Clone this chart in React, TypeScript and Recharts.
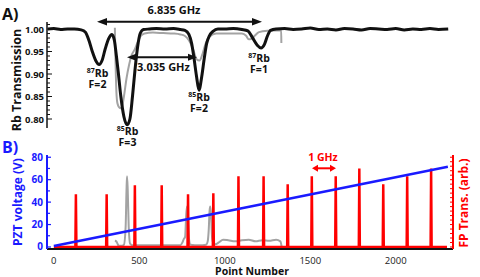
import React from "react";
import { LineChart, Line, XAxis, YAxis } from "recharts";

const FONT = "'Open Sans', sans-serif";
const BLUE = "#1a1aff";
const RED = "#ff0000";
const GRAY = "#a3a3a3";
const INK = "#111";

const X_DOMAIN: [number, number] = [-40, 2335];
const AXIS_L = 47;
const AXIS_R = 453;

// A) Rb transmission, main sweep (black)
const rbSweep: [number, number][] = [
  [-35, 1.0], [0, 1.001], [40, 0.999], [80, 1.0], [120, 1.0], [160, 0.998],
  [185, 0.993], [205, 0.975], [225, 0.95], [245, 0.93], [265, 0.921], [282, 0.93],
  [300, 0.955], [320, 0.978], [340, 0.988], [354, 0.975], [366, 0.94], [378, 0.9],
  [392, 0.85], [410, 0.805], [429, 0.787], [445, 0.8], [460, 0.85], [475, 0.91],
  [490, 0.96], [505, 0.99], [525, 0.999], [560, 1.0], [600, 1.001], [650, 1.0],
  [700, 1.001], [740, 0.999], [767, 0.997], [790, 0.988], [806, 0.968], [820, 0.935],
  [835, 0.894], [849, 0.864], [865, 0.894], [880, 0.935], [894, 0.968], [910, 0.985],
  [931, 0.995], [960, 1.0], [1000, 1.0], [1050, 1.001], [1100, 0.999], [1135, 0.996],
  [1160, 0.982], [1190, 0.964], [1212, 0.958], [1232, 0.966], [1250, 0.985],
  [1268, 0.997], [1300, 1.0], [1350, 1.001], [1400, 0.999], [1450, 1.0], [1500, 1.002],
  [1550, 0.999], [1600, 1.0], [1650, 0.998], [1700, 1.001], [1750, 1.0], [1800, 0.998],
  [1850, 1.001], [1900, 1.0], [1950, 0.999], [2000, 1.001], [2050, 0.998], [2100, 1.0],
  [2150, 0.999], [2200, 1.001], [2250, 0.999], [2307, 1.0],
];

// A) second sweep (gray)
const rbSweepGray: [number, number][] = [
  [357, 1.003], [359, 0.96], [362, 0.91], [366, 0.86], [372, 0.835], [385, 0.825],
  [396, 0.824], [410, 0.85], [425, 0.89], [440, 0.92], [455, 0.942], [474, 0.955],
  [490, 0.97], [510, 0.985], [530, 0.99], [580, 0.992], [640, 0.991], [700, 0.99],
  [740, 0.988], [765, 0.985], [790, 0.975], [815, 0.955], [835, 0.933], [852, 0.93],
  [870, 0.945], [890, 0.97], [910, 0.983], [950, 0.99], [1000, 0.99], [1050, 0.99],
  [1100, 0.99], [1125, 0.985], [1140, 0.977], [1155, 0.978], [1175, 0.985],
  [1200, 0.993], [1250, 0.996], [1330, 0.997], [1331, 0.969],
];

const rbTicks = [
  0.8, 0.81, 0.82, 0.83, 0.84, 0.85, 0.86, 0.87, 0.88, 0.89, 0.9, 0.91, 0.92, 0.93,
  0.94, 0.95, 0.96, 0.97, 0.98, 0.99, 1.0, 1.01,
];

// B) PZT ramp (blue)
const pztRamp: [number, number][] = [[0, 0.8], [1085, 34.1], [2305, 71.5]];

// B) Fabry-Perot transmission peaks (red)
const fpPeakPos = [129, 309, 474, 631, 785, 933, 1080, 1227, 1368, 1509, 1649, 1787, 1927, 2067, 2207];
const fpPeakHeight = [47, 47, 55, 55, 47, 48, 63, 63, 56, 63, 63, 70, 56, 63, 70];

// B) gray trace
const grayB: [number, number][] = [
  [357, 5.5], [365, 5], [372, 3], [380, 1], [395, 1], [410, 2], [420, 18], [425, 50],
  [428, 63], [432, 52], [438, 18], [446, 3], [460, 1.5], [520, 1.5], [600, 1.5],
  [680, 1.5], [740, 1.5], [752, 4], [760, 7], [768, 9], [774, 28], [779, 36],
  [784, 28], [790, 8], [800, 2], [850, 1.5], [890, 2], [900, 5], [906, 15], [911, 32],
  [915, 36], [920, 28], [926, 8], [935, 3], [945, 2.5], [965, 4], [990, 6.5],
  [1020, 6], [1060, 5], [1100, 6], [1140, 6.5], [1180, 5], [1220, 6], [1260, 5.5],
  [1300, 6.5], [1325, 5], [1333, 0],
];

const voltTicks = [0, 10, 20, 30, 40, 50, 60, 70, 80];
const fpTicks = [0, 4, 8, 12, 16, 20, 24, 28, 32, 36, 40, 44, 48, 52, 56, 60, 64, 68, 72, 76, 80];
const pointTicks = [0, 500, 1000, 1500, 2000];

const toRows = (pts: [number, number][]) => pts.map(([n, v]) => ({ n, v }));

const fpRows = (() => {
  const rows = [{ n: 0, v: 0 }];
  fpPeakPos.forEach((p, i) => {
    rows.push({ n: p - 3, v: 0 }, { n: p, v: fpPeakHeight[i] }, { n: p + 3, v: 0 });
  });
  rows.push({ n: 2300, v: 0 });
  return rows;
})();

function RbTick({ y, payload }: any) {
  const v = payload.value;
  const major = Math.round(v * 100) % 5 === 0;
  return (
    <g>
      <line x1={AXIS_L} x2={AXIS_L + (major ? 5 : 3)} y1={y} y2={y} stroke={INK} strokeWidth={1} />
      {major && (
        <text x={AXIS_L - 3} y={y + 3.5} textAnchor="end" fontSize={9.5} fontWeight={700} fill={INK} fontFamily={FONT}>
          {v.toFixed(2)}
        </text>
      )}
    </g>
  );
}

function VoltTick({ y, payload }: any) {
  const v = payload.value;
  const major = v % 20 === 0;
  return (
    <g>
      <line x1={AXIS_L} x2={AXIS_L + (major ? 4 : 3)} y1={y} y2={y} stroke={BLUE} strokeWidth={1.2} />
      {major && (
        <text x={AXIS_L - 4} y={y + 3.5} textAnchor="end" fontSize={10} fontWeight={700} fill={BLUE} fontFamily={FONT}>
          {v}
        </text>
      )}
    </g>
  );
}

function FpTick({ y }: any) {
  return <line x1={AXIS_R} x2={AXIS_R - 3} y1={y} y2={y} stroke={RED} strokeWidth={1} />;
}

function PointTick({ x, payload }: any) {
  return (
    <text x={x} y={263.5} textAnchor="middle" fontSize={9.5} fill="#222" fontFamily={FONT}>
      {payload.value}
    </text>
  );
}

function Arrow({ x1, x2, y, color, head, half }: any) {
  return (
    <g>
      <line x1={x1 + head - 1} x2={x2 - head + 1} y1={y} y2={y} stroke={color} strokeWidth={2} />
      <polygon points={`${x1},${y} ${x1 + head},${y - half} ${x1 + head},${y + half}`} fill={color} />
      <polygon points={`${x2},${y} ${x2 - head},${y - half} ${x2 - head},${y + half}`} fill={color} />
    </g>
  );
}

function IsoLabel({ x, y, mass, level }: any) {
  return (
    <g fontWeight={700} fill={INK} fontFamily={FONT}>
      <text x={x} y={y} textAnchor="middle">
        <tspan fontSize={7} dy={-4}>{mass}</tspan>
        <tspan fontSize={10.5} dy={4}>Rb</tspan>
      </text>
      <text x={x} y={y + 11} textAnchor="middle" fontSize={10.5}>{level}</text>
    </g>
  );
}

export default function App() {
  const layer: React.CSSProperties = { position: "absolute", left: 0, top: 0 };
  return (
    <div style={{ position: "absolute", left: 0, top: 0, width: 480, height: 277, background: "#fff" }}>
      <div style={layer}>
        <LineChart width={480} height={277} margin={{ top: 22, right: 27, bottom: 149, left: 0 }}>
          <XAxis type="number" dataKey="n" domain={X_DOMAIN} allowDataOverflow hide />
          <YAxis
            type="number"
            domain={[0.78, 1.0156]}
            allowDataOverflow
            ticks={rbTicks}
            interval={0}
            width={47}
            tickLine={false}
            axisLine={{ stroke: INK, strokeWidth: 1.5 }}
            tick={<RbTick />}
          />
          <Line data={toRows(rbSweepGray)} dataKey="v" type="monotone" stroke={GRAY} strokeWidth={2} dot={false} isAnimationActive={false} />
          <Line data={toRows(rbSweep)} dataKey="v" type="monotone" stroke={INK} strokeWidth={3} dot={false} isAnimationActive={false} />
        </LineChart>
      </div>
      <div style={layer}>
        <LineChart width={480} height={277} margin={{ top: 155, right: 0, bottom: 8, left: 0 }}>
          <XAxis
            type="number"
            dataKey="n"
            domain={X_DOMAIN}
            allowDataOverflow
            ticks={pointTicks}
            interval={0}
            height={20}
            tickLine={false}
            axisLine={{ stroke: INK, strokeWidth: 2 }}
            tick={<PointTick />}
          />
          <YAxis
            yAxisId="volt"
            type="number"
            domain={[-1.8, 82]}
            allowDataOverflow
            ticks={voltTicks}
            interval={0}
            width={47}
            tickLine={false}
            axisLine={{ stroke: BLUE, strokeWidth: 2 }}
            tick={<VoltTick />}
          />
          <YAxis
            yAxisId="fp"
            orientation="right"
            type="number"
            domain={[-1.8, 82]}
            allowDataOverflow
            ticks={fpTicks}
            interval={0}
            width={27}
            tickLine={false}
            axisLine={{ stroke: RED, strokeWidth: 2 }}
            tick={<FpTick />}
          />
          <Line yAxisId="volt" data={toRows(grayB)} dataKey="v" type="monotone" stroke={GRAY} strokeWidth={2} dot={false} isAnimationActive={false} />
          <Line yAxisId="fp" data={fpRows} dataKey="v" type="linear" stroke={RED} strokeWidth={2.5} dot={false} isAnimationActive={false} />
          <Line yAxisId="volt" data={toRows(pztRamp)} dataKey="v" type="linear" stroke={BLUE} strokeWidth={2.5} dot={false} isAnimationActive={false} />
        </LineChart>
      </div>
      <svg width={480} height={277} style={{ ...layer, pointerEvents: "none" }} fontFamily={FONT}>
        <text x={2} y={20} fontSize={16} fontWeight={700} fill={INK}>A)</text>
        <text x={2} y={153} fontSize={16} fontWeight={700} fill={BLUE}>B)</text>
        <text transform="translate(21,80) rotate(-90)" textAnchor="middle" fontSize={12.5} fontWeight={700} fill={INK}>
          Rb Transmission
        </text>
        <text transform="translate(22,202) rotate(-90)" textAnchor="middle" fontSize={12} fontWeight={700} fill={BLUE}>
          PZT voltage (V)
        </text>
        <text transform="translate(468,203) rotate(-90)" textAnchor="middle" fontSize={12} fontWeight={700} fill={RED}>
          FP Trans. (arb.)
        </text>
        <text x={252} y={274.5} textAnchor="middle" fontSize={10.5} fontWeight={700} fill={INK}>Point Number</text>

        <Arrow x1={97} x2={262} y={21.7} color={INK} head={10} half={3.8} />
        <text x={174} y={14} textAnchor="middle" fontSize={11} fontWeight={700} fill={INK}>6.835 GHz</text>
        <Arrow x1={127} x2={197} y={57.3} color={INK} head={9} half={3.5} />
        <text x={137} y={70.5} fontSize={11} fontWeight={700} fill={INK}>3.035 GHz</text>

        <IsoLabel x={97.5} y={77} mass="87" level="F=2" />
        <IsoLabel x={127.5} y={135} mass="85" level="F=3" />
        <IsoLabel x={199} y={100.5} mass="85" level="F=2" />
        <IsoLabel x={259} y={61.5} mass="87" level="F=1" />

        <text x={323} y={160.5} textAnchor="middle" fontSize={10.5} fontWeight={700} fill={RED}>1 GHz</text>
        <Arrow x1={312} x2={336} y={168.3} color={RED} head={6} half={3.5} />
      </svg>
    </div>
  );
}
